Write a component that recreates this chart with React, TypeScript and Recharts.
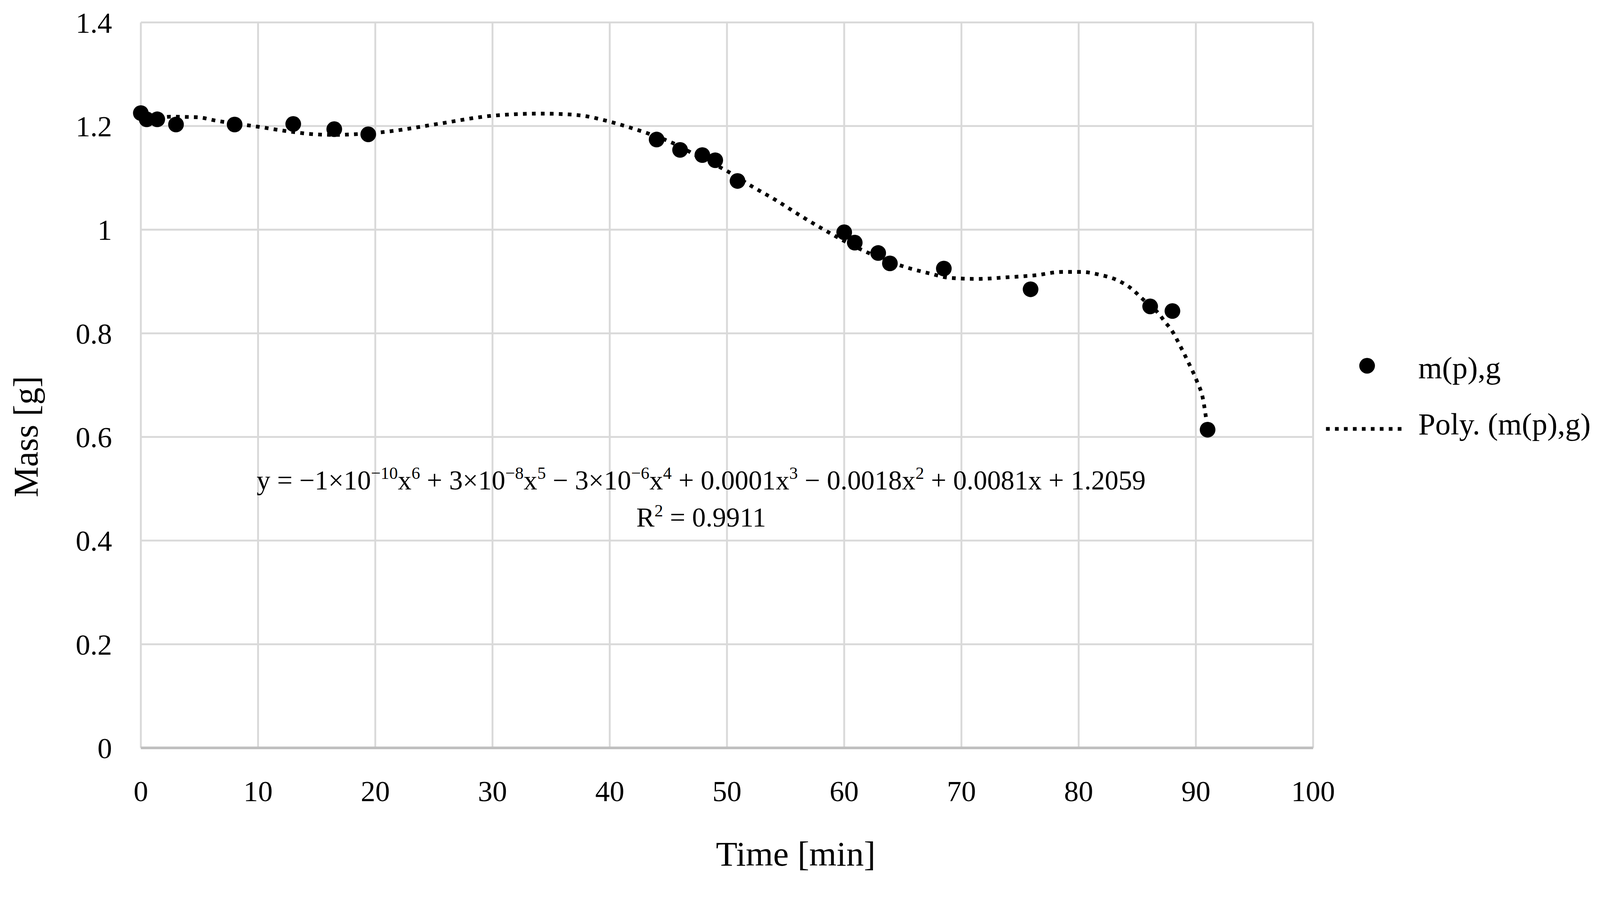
import React from 'react';
import {
  ComposedChart,
  Scatter,
  Line,
  XAxis,
  YAxis,
  CartesianGrid,
  Legend,
  Customized,
} from 'recharts';

// Measured points: time [min] and mass [g]
const timeMin = [0, 0.5, 1.4, 3.0, 8.0, 13.0, 16.5, 19.4, 44.0, 46.0, 47.9, 49.0, 50.9, 60.0, 60.9, 62.9, 63.9, 68.5, 75.9, 86.1, 88.0, 91.0];
const massG = [1.225, 1.213, 1.213, 1.203, 1.203, 1.204, 1.194, 1.184, 1.174, 1.154, 1.144, 1.134, 1.094, 0.995, 0.975, 0.955, 0.935, 0.925, 0.885, 0.852, 0.843, 0.614];

// Polynomial trend line
const trendX = [0, 1, 2.5, 4.8, 6.5, 8, 10.2, 12.5, 14.9, 16.5, 18.1, 21.3, 25.3, 29.8, 32.1, 34, 36, 38, 39.4, 41.6, 43.1, 45.3, 47.5, 50.1, 52.1, 54.1, 56.2, 58.2, 61.6, 65.2, 67.4, 69, 71.4, 73.8, 76.3, 78.6, 80.2, 81.8, 83.3, 84.6, 85.3, 86.9, 87.4, 87.9, 88.7, 89.4, 90.1, 90.6, 91.0];
const trendY = [1.206, 1.212, 1.218, 1.217, 1.21, 1.205, 1.198, 1.19, 1.184, 1.183, 1.184, 1.19, 1.204, 1.2195, 1.223, 1.224, 1.223, 1.219, 1.212, 1.198, 1.187, 1.168, 1.142, 1.112, 1.084, 1.058, 1.028, 1.001, 0.96, 0.928, 0.915, 0.907, 0.905, 0.908, 0.912, 0.9185, 0.9185, 0.913, 0.9025, 0.8845, 0.8695, 0.836, 0.821, 0.807, 0.774, 0.742, 0.707, 0.674, 0.615];

const xTicks = [0, 10, 20, 30, 40, 50, 60, 70, 80, 90, 100];
const yTicks = [0, 0.2, 0.4, 0.6, 0.8, 1, 1.2, 1.4];
const yTickLabels = ['0', '0.2', '0.4', '0.6', '0.8', '1', '1.2', '1.4'];

const seriesName = 'm(p),g';
const trendName = 'Poly. (m(p),g)';
const xTitle = 'Time [min]';
const yTitle = 'Mass [g]';

const eqSegments: { t: string; sup?: boolean }[] = [
  { t: 'y = \u22121\u00d710' },
  { t: '\u221210', sup: true },
  { t: 'x' },
  { t: '6', sup: true },
  { t: ' + 3\u00d710' },
  { t: '\u22128', sup: true },
  { t: 'x' },
  { t: '5', sup: true },
  { t: ' \u2212 3\u00d710' },
  { t: '\u22126', sup: true },
  { t: 'x' },
  { t: '4', sup: true },
  { t: ' + 0.0001x' },
  { t: '3', sup: true },
  { t: ' \u2212 0.0018x' },
  { t: '2', sup: true },
  { t: ' + 0.0081x + 1.2059' },
];
const r2Text = '0.9911';

const pointData = timeMin.map((x, i) => ({ x, y: massG[i] }));
const trendData = trendX.map((x, i) => ({ x, y: trendY[i] }));

const FONT = 'Liberation Serif';
// The page is photographed with a device scale; work in CSS pixels.
const K = 4096 / 4283;
const s = (v: number) => v * K;

const W = s(4283);
const H = s(2345);

const EquationLabel = () => {
  const raise = s(28);
  let raised = false;
  const spans = eqSegments.map((seg, i) => {
    let dy = 0;
    if (seg.sup && !raised) {
      dy = -raise;
      raised = true;
    } else if (!seg.sup && raised) {
      dy = raise;
      raised = false;
    }
    return (
      <tspan key={i} dy={dy} fontSize={seg.sup ? s(46) : s(73)}>
        {seg.t}
      </tspan>
    );
  });
  return (
    <g>
      <text x={s(1877)} y={s(1310)} textAnchor="middle" fontFamily={FONT} fontSize={s(73)} fill="#000">
        {spans}
      </text>
      <text x={s(1877)} y={s(1410)} textAnchor="middle" fontFamily={FONT} fontSize={s(73)} fill="#000">
        R
        <tspan dy={-s(28)} fontSize={s(46)}>2</tspan>
        <tspan dy={s(28)} fontSize={s(73)}>{' = ' + r2Text}</tspan>
      </text>
      <text x={s(2130)} y={s(2317)} textAnchor="middle" fontFamily={FONT} fontSize={s(94)} fill="#000">
        {xTitle}
      </text>
      <text
        transform={`translate(${s(100)},${s(1169)}) rotate(-90)`}
        textAnchor="middle"
        fontFamily={FONT}
        fontSize={s(92)}
        fill="#000"
      >
        {yTitle}
      </text>
    </g>
  );
};

const LegendContent = (props: any) => {
  const payload: any[] = props.payload || [];
  return (
    <svg width={s(745)} height={s(280)} style={{ display: 'block', overflow: 'visible' }}>
      {payload.map((entry, i) => {
        const isLine = entry.type === 'line' || String(entry.value).startsWith('Poly');
        if (isLine) {
          return (
            <g key={i}>
              <line
                x1={s(10)}
                y1={s(228)}
                x2={s(222)}
                y2={s(228)}
                stroke="#000"
                strokeWidth={s(10)}
                strokeDasharray={`${s(10)} ${s(14)}`}
              />
              <text x={s(257)} y={s(243)} fontFamily={FONT} fontSize={s(82)} fill="#000">
                {entry.value}
              </text>
            </g>
          );
        }
        return (
          <g key={i}>
            <circle cx={s(120)} cy={s(59)} r={s(21)} fill="#000" />
            <text x={s(257)} y={s(92)} fontFamily={FONT} fontSize={s(82)} fill="#000">
              {entry.value}
            </text>
          </g>
        );
      })}
    </svg>
  );
};

const Dot = (p: any) => <circle cx={p.cx} cy={p.cy} r={s(21)} fill="#000" />;

export default function App() {
  return (
    <div style={{ position: 'absolute', left: 0, top: 0, width: W, height: H, background: '#fff', overflow: 'hidden' }}>
      <ComposedChart
        width={W}
        height={H}
        margin={{ top: s(60), right: s(768), bottom: 0, left: 0 }}
      >
        <CartesianGrid stroke="#d9d9d9" strokeWidth={s(5)} />
        <XAxis
          dataKey="x"
          type="number"
          domain={[0, 100]}
          ticks={xTicks}
          interval={0}
          height={s(343)}
          axisLine={{ stroke: '#bfbfbf', strokeWidth: s(7) }}
          tickLine={false}
          tickSize={0}
          tickMargin={s(87)}
          tick={{ fontSize: s(78), fill: '#000', fontFamily: FONT }}
        />
        <YAxis
          dataKey="y"
          type="number"
          domain={[0, 1.4]}
          ticks={yTicks}
          interval={0}
          width={s(377)}
          axisLine={false}
          tickLine={false}
          tickSize={0}
          tickMargin={s(77)}
          tickFormatter={(v: number) => yTickLabels[yTicks.indexOf(v)] ?? String(v)}
          tick={{ fontSize: s(78), fill: '#000', fontFamily: FONT }}
        />
        <Scatter
          name={seriesName}
          data={pointData}
          dataKey="y"
          fill="#000"
          shape={Dot}
          legendType="circle"
          isAnimationActive={false}
        />
        <Line
          name={trendName}
          data={trendData}
          dataKey="y"
          type="monotoneX"
          stroke="#000"
          strokeWidth={s(10)}
          strokeDasharray={`${s(10)} ${s(14)}`}
          dot={false}
          activeDot={false}
          legendType="line"
          isAnimationActive={false}
        />
        <Legend
          layout="horizontal"
          verticalAlign="middle"
          align="center"
          content={LegendContent}
          wrapperStyle={{ left: s(3540), top: s(920), width: s(745), height: s(280), right: 'auto', bottom: 'auto' }}
        />
        <Customized component={EquationLabel} />
      </ComposedChart>
    </div>
  );
}
